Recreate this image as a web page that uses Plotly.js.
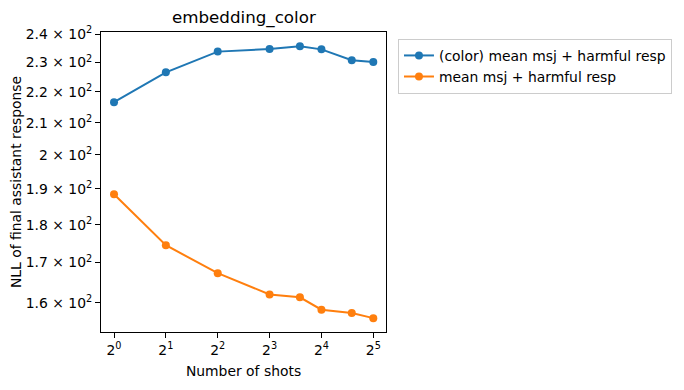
<!DOCTYPE html>
<html>
<head>
<meta charset="utf-8">
<script src="https://cdn.plot.ly/plotly-3.0.1.min.js"></script>
<style>html,body{margin:0;padding:0;background:#fff;} #chart{width:684px;height:390px;}</style>
</head>
<body>
<div id="chart"></div>
<script>
const shots = [1, 2, 4, 8, 12, 16, 24, 32];
const colorMsjHarmful = [216.6, 226.6, 233.8, 234.7, 235.7, 234.6, 230.8, 230.2];
const msjHarmful = [188.5, 174.5, 167.3, 162.0, 161.3, 158.3, 157.5, 156.3];
const seriesNames = ["(color) mean msj + harmful resp", "mean msj + harmful resp"];
const xTickVals = [1, 2, 4, 8, 16, 32];
const xTickText = ["2<sup>0</sup>", "2<sup>1</sup>", "2<sup>2</sup>", "2<sup>3</sup>", "2<sup>4</sup>", "2<sup>5</sup>"];
const yTickVals = [160, 170, 180, 190, 200, 210, 220, 230, 240];
const yTickText = ["1.6 × 10<sup>2</sup>", "1.7 × 10<sup>2</sup>", "1.8 × 10<sup>2</sup>", "1.9 × 10<sup>2</sup>", "2 × 10<sup>2</sup>", "2.1 × 10<sup>2</sup>", "2.2 × 10<sup>2</sup>", "2.3 × 10<sup>2</sup>", "2.4 × 10<sup>2</sup>"];

const font = "DejaVu Sans, sans-serif";
const traces = [
  {x: shots, y: colorMsjHarmful, name: seriesNames[0], mode: "lines+markers",
   line: {color: "#1f77b4", width: 2}, marker: {color: "#1f77b4", size: 8}},
  {x: shots, y: msjHarmful, name: seriesNames[1], mode: "lines+markers",
   line: {color: "#ff7f0e", width: 2}, marker: {color: "#ff7f0e", size: 8}}
];
const layout = {
  width: 684, height: 390,
  margin: {l: 101, r: 298, t: 32, b: 58},
  paper_bgcolor: "#fff", plot_bgcolor: "#fff",
  font: {family: font, size: 13.9, color: "#000"},
  title: {text: "embedding_color", font: {family: font, size: 16.7, color: "#000"}, x: 0.3565, xanchor: "center", y: 0.955, yanchor: "middle"},
  xaxis: {type: "log", range: [-0.0755, 1.5789], tickvals: xTickVals, ticktext: xTickText,
    ticks: "outside", ticklen: 5, tickwidth: 1, tickcolor: "#000", showgrid: false, zeroline: false,
    showline: true, mirror: true, linecolor: "#000", linewidth: 1,
    title: {text: "Number of shots", font: {family: font, size: 13.9}, standoff: 9}, automargin: false},
  yaxis: {type: "log", range: [2.18487, 2.38172], tickvals: yTickVals, ticktext: yTickText,
    ticks: "outside", ticklen: 5, tickwidth: 1, tickcolor: "#000", showgrid: false, zeroline: false,
    showline: true, mirror: true, linecolor: "#000", linewidth: 1,
    title: {text: "NLL of final assistant response", font: {family: font, size: 13.9}, standoff: 0}, automargin: false},
  legend: {x: 1.042, y: 0.977, xanchor: "left", yanchor: "top", bordercolor: "#cccccc", borderwidth: 1,
    bgcolor: "#fff", font: {family: font, size: 13.9}, tracegroupgap: 0},
  showlegend: true
};
Plotly.newPlot("chart", traces, layout, {displayModeBar: false, staticPlot: true});
</script>
</body>
</html>
